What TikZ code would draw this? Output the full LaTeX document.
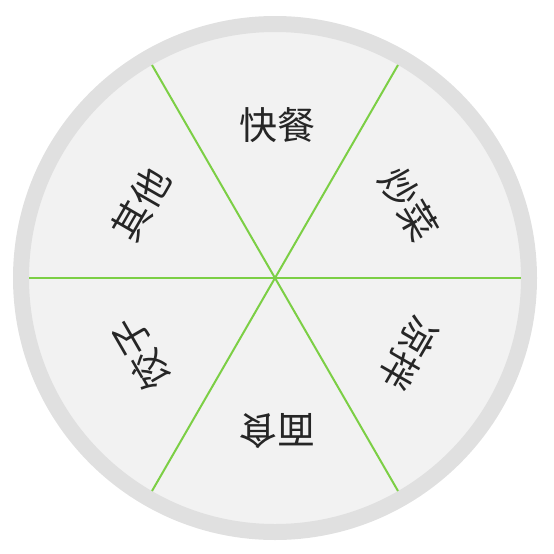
\documentclass[tikz,border=0pt]{standalone}
\usepackage{fontspec}
\newfontfamily\cjkfont{Noto Sans CJK SC}
\usepackage{tikz}
\usepackage{xcolor}

\definecolor{ringgray}{HTML}{E0E0E0}
\definecolor{platefill}{HTML}{F2F2F2}
\definecolor{spokegreen}{HTML}{7CCF45}

\begin{document}
\begin{tikzpicture}[
    x=1pt, y=-1pt,
    plate/.style = {draw=ringgray, fill=platefill, line width=16pt},
    spoke/.style = {draw=spokegreen, line width=2pt},
    dish/.style = {font=\cjkfont\fontsize{38}{38}\selectfont, text=black!85, inner sep=0pt}
]
\useasboundingbox (0,0) rectangle (554,554);

% Plate
\coordinate (hub) at (275,278);
\draw [plate] (hub) circle[radius=254];

% Spokes
\coordinate (e0) at (521,278);
\coordinate (w0) at (29,278);
\coordinate (ne) at (398,65);
\coordinate (sw) at (152,491);
\coordinate (nw) at (152,65);
\coordinate (se) at (398,491);
\draw [spoke] (w0) -- (e0);
\draw [spoke] (sw) -- (ne);
\draw [spoke] (nw) -- (se);

% Labels
\node (kuaican) [dish] at (277,125) {快餐};
\node (chaocai) [dish, rotate=-60] at (409,204) {炒菜};
\node (liangban) [dish, rotate=-120] at (409,354) {凉拌};
\node (mianshi) [dish, rotate=180] at (277,431) {面食};
\node (jiaozi) [dish, rotate=120] at (141,354) {饺子};
\node (qita) [dish, rotate=60] at (141,204) {其他};

\end{tikzpicture}
\end{document}
